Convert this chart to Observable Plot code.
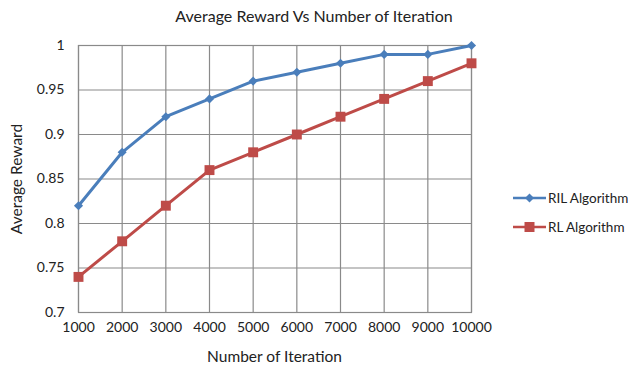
<!DOCTYPE html>
<html>
<head>
<meta charset="utf-8">
<script src="https://cdn.jsdelivr.net/npm/d3@7"></script>
<script src="https://cdn.jsdelivr.net/npm/@observablehq/plot@0.6"></script>
<style>
  body { margin: 0; background: #fff; }
  #wrap { position: relative; width: 628px; height: 372px; overflow: hidden; font-family: Lato, "Open Sans", sans-serif; color: #222; }
  .abs { position: absolute; white-space: nowrap; }
  #title { left: 0; width: 628px; top: 6px; text-align: center; font-size: 16px; }
  #xlabel { left: 78px; width: 393px; top: 347px; text-align: center; font-size: 15.5px; }
  #ylabel { left: 16px; top: 179px; font-size: 15.5px; transform: translate(-50%, -50%) rotate(-90deg); }
  #legend { left: 513px; top: 183px; width: 115px; font-size: 13.5px; }
  .item { display: flex; align-items: center; height: 29px; }
  .item svg { margin-right: 1px; flex-shrink: 0; }
  .item span { flex-shrink: 0; }
</style>
</head>
<body>
<div id="wrap">
  <div id="chart"></div>
  <div id="title" class="abs">Average Reward Vs Number of Iteration</div>
  <div id="xlabel" class="abs">Number of Iteration</div>
  <div id="ylabel" class="abs">Average Reward</div>
  <div id="legend" class="abs"></div>
</div>
<script>
const iterations = [1000, 2000, 3000, 4000, 5000, 6000, 7000, 8000, 9000, 10000];
const rilValues = [0.82, 0.88, 0.92, 0.94, 0.96, 0.97, 0.98, 0.99, 0.99, 1.0];
const rlValues = [0.74, 0.78, 0.82, 0.86, 0.88, 0.90, 0.92, 0.94, 0.96, 0.98];
const yTicks = [0.7, 0.75, 0.8, 0.85, 0.9, 0.95, 1];
const seriesNames = ["RIL Algorithm", "RL Algorithm"];
const seriesColors = ["#4A7EBB", "#BE4B48"];
const seriesSymbols = ["diamond2", "square"];

const ril = iterations.map((x, i) => ({x, y: rilValues[i], s: seriesNames[0]}));
const rl = iterations.map((x, i) => ({x, y: rlValues[i], s: seriesNames[1]}));

const plot = Plot.plot({
  width: 628,
  height: 372,
  marginLeft: 78,
  marginRight: 157,
  marginTop: 45,
  marginBottom: 60,
  style: {fontFamily: "Lato, 'Open Sans', sans-serif", fontSize: "14px", color: "#222", background: "#fff"},
  x: {type: "linear", domain: [1000, 10000], ticks: iterations},
  y: {domain: [0.7, 1], ticks: yTicks},
  marks: [
    Plot.gridX(iterations, {stroke: "#8a8a8a", strokeOpacity: 1, strokeWidth: 1.2}),
    Plot.gridY(yTicks, {stroke: "#8a8a8a", strokeOpacity: 1, strokeWidth: 1.2}),
    Plot.frame({stroke: "#8a8a8a", strokeWidth: 1.2}),
    Plot.axisX(iterations, {label: null, tickSize: 0, tickPadding: 10, tickFormat: d => String(d), fill: "#222"}),
    Plot.axisY(yTicks, {label: null, tickSize: 0, tickPadding: 14, tickFormat: d => String(d), fill: "#222"}),
    Plot.line(ril, {x: "x", y: "y", stroke: seriesColors[0], strokeWidth: 3}),
    Plot.line(rl, {x: "x", y: "y", stroke: seriesColors[1], strokeWidth: 3}),
    Plot.dot(ril, {x: "x", y: "y", symbol: () => seriesSymbols[0], fill: seriesColors[0], r: 4.1, stroke: "none"}),
    Plot.dot(rl, {x: "x", y: "y", symbol: () => seriesSymbols[1], fill: seriesColors[1], r: 5.6, stroke: "none"})
  ]
});
document.getElementById("chart").appendChild(plot);

const legend = document.getElementById("legend");
seriesNames.forEach((name, i) => {
  const item = document.createElement("div");
  item.className = "item";
  const svg = d3.create("svg").attr("width", 34).attr("height", 14);
  svg.append("line").attr("x1", 0).attr("x2", 33).attr("y1", 7).attr("y2", 7)
    .attr("stroke", seriesColors[i]).attr("stroke-width", 2.5);
  const sym = i === 0 ? d3.symbolDiamond2 : d3.symbolSquare;
  const size = i === 0 ? 52 : 100;
  svg.append("path").attr("d", d3.symbol(sym, size)()).attr("transform", "translate(16.5,7)")
    .attr("fill", seriesColors[i]);
  item.appendChild(svg.node());
  const t = document.createElement("span");
  t.textContent = name;
  item.appendChild(t);
  legend.appendChild(item);
});
</script>
</body>
</html>
